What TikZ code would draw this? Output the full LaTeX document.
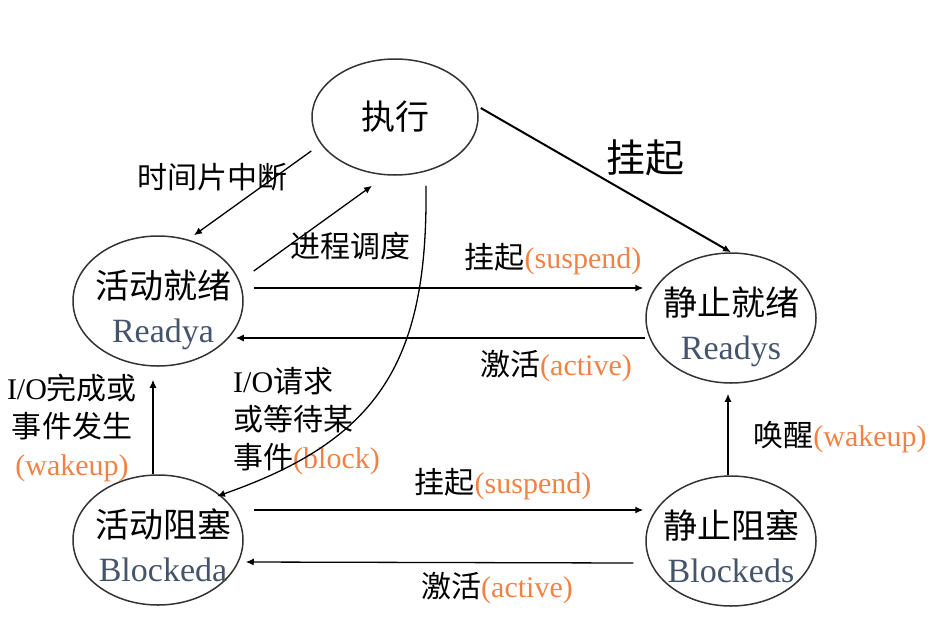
\documentclass[tikz,border=0pt]{standalone}
\usepackage{fontspec}
\setmainfont{Liberation Serif}
\newfontfamily\cjk{Noto Sans CJK SC}
\usetikzlibrary{arrows.meta,shapes.geometric}
\definecolor{stateblue}{RGB}{68,84,106}
\definecolor{engorange}{RGB}{240,130,70}
\newcommand{\en}[1]{\textcolor{engorange}{#1}}
% two lines of a state, kept out of the ellipse size
\newcommand{\statetext}[3][0pt]{%
	\makebox[0pt]{\hspace*{#1}\raisebox{3pt}[0pt][0pt]{\cjk #2}}%
	\makebox[0pt]{\hspace*{#1}\raisebox{-41pt}[0pt][0pt]{\textcolor{stateblue}{#3}}}}

\tikzset{
	state/.style={shape=ellipse,draw=black!80,line width=1.5pt,minimum width=170pt,minimum height=130pt,inner sep=0pt,font=\fontsize{34}{45}\selectfont},
	trans/.style={-{Latex[length=8pt,width=7pt]},line width=1.3pt},
	lab/.style={inner sep=0pt,font=\fontsize{30}{38}\selectfont}
}

\begin{document}
\begin{tikzpicture}[x=1pt,y=-1pt]
	\useasboundingbox (0,0) rectangle (949,626);
	
	\node[state,minimum width=166pt,minimum height=116pt] (ex) at (395,117) {{\cjk 执行}};
	\node[state] (ra) at (158,301) {\statetext[10pt]{活动就绪}{Readya}};
	\node[state] (rs) at (731,318) {\statetext{静止就绪}{Readys}};
	\node[state] (ba) at (158,540) {\statetext[10pt]{活动阻塞}{Blockeda}};
	\node[state] (bs) at (731,541) {\statetext{静止阻塞}{Blockeds}};
	
	\node[lab,font=\fontsize{39}{45}\selectfont] (hang) at (645,158) {{\cjk 挂起}};
	\node[lab] (slice) at (212,177) {{\cjk 时间片中断}};
	\node[lab] (sched) at (350,246) {{\cjk 进程调度}};
	\node[lab] (susptop) at (553,259) {{\cjk 挂起}\en{(suspend)}};
	\node[lab] (acttop) at (556,366) {{\cjk 激活}\en{(active)}};
	\node[lab,align=center] (iodone) at (72,428) {I/O{\cjk 完成或}\\{\cjk 事件发生}\\\en{(wakeup)}};
	\node[lab,align=left,anchor=west] (ioreq) at (233,421) {I/O{\cjk 请求}\\{\cjk 或等待某}\\{\cjk 事件}\en{(block)}};
	\node[lab] (suspbot) at (503,484) {{\cjk 挂起}\en{(suspend)}};
	\node[lab] (actbot) at (497,588) {{\cjk 激活}\en{(active)}};
	\node[lab] (wake) at (840,437) {{\cjk 唤醒}\en{(wakeup)}};
	
	\path[trans,line width=2pt] ([xshift=2pt,yshift=9pt]ex.east) edge (rs.north);
	\path[trans] ([yshift=-34pt]ex.west) edge ([xshift=36pt]ra.north);
	\path[trans] ([xshift=10pt,yshift=30pt]ra.east) edge ([xshift=-23pt,yshift=-10pt]ex.south);
	\path[trans] ([xshift=10pt,yshift=13pt]ra.east) edge ([xshift=-2pt,yshift=30pt]rs.west);
	\path[trans] ([yshift=-20pt]rs.west) edge ([xshift=-8pt,yshift=-37pt]ra.east);
	\draw[trans] ([xshift=31pt,yshift=-10pt]ex.south) .. controls +(2,175) and +(163,-57) .. ([xshift=59pt,yshift=-22pt]ba.north);
	\path[trans] ([xshift=-5pt]ba.north) edge ([xshift=-5pt,yshift=-13pt]ra.south);
	\path[trans] ([xshift=10pt,yshift=30pt]ba.east) edge ([xshift=-2pt,yshift=31pt]bs.west);
	\path[trans] ([xshift=-12pt,yshift=-22pt]bs.west) edge ([xshift=2pt,yshift=-22pt]ba.east);
	\path[trans] ([xshift=-3pt]bs.north) edge ([xshift=-3pt,yshift=-10pt]rs.south);
	
\end{tikzpicture}
\end{document}
